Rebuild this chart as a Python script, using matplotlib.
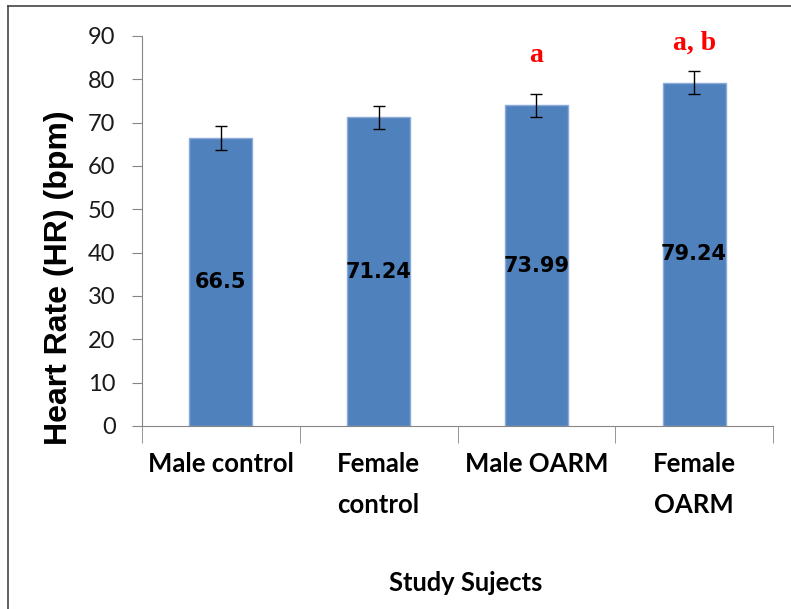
import matplotlib
matplotlib.use("Agg")
import matplotlib.pyplot as plt
from matplotlib.lines import Line2D
import numpy as np

groups = ["Male control", "Female\ncontrol", "Male OARM", "Female\nOARM"]
heart_rate = [66.5, 71.24, 73.99, 79.24]
errors = [2.7, 2.6, 2.6, 2.7]
sig_letters = ["", "", "a", "a, b"]
sig_y = [0, 0, 85.4, 88.4]

fig = plt.figure(figsize=(7.91, 6.09), dpi=100)
ax = fig.add_axes([142/791, 1-426/609, 631/791, 390/609])

x = np.arange(len(groups))
ax.bar(x, heart_rate, width=0.4, color="#4F81BD", edgecolor="#8EAADB", linewidth=1,
       yerr=errors, error_kw=dict(ecolor="black", elinewidth=1, capsize=4, capthick=1))

for xi, v in zip(x, heart_rate):
    ax.text(xi, v/2, f"{v:g}", ha="center", va="center", fontsize=15,
            fontweight="bold", family="DejaVu Sans", color="black")

for xi, s, yy in zip(x, sig_letters, sig_y):
    if s:
        ax.text(xi, yy, s, ha="center", va="center", fontsize=20, fontweight="bold",
                family="Liberation Serif", color="red")

ax.set_xlim(-0.5, 3.5)
ax.set_ylim(0, 90)
ax.set_yticks(range(0, 91, 10))
ax.set_yticklabels([str(t) for t in range(0, 91, 10)], fontsize=17, family="Lato",
                   color="#1a1a1a")
ax.set_xticks(x)
ax.set_xticklabels(groups, fontsize=18.5, fontweight="bold", family="Lato", linespacing=1.85)
ax.set_xticks(np.arange(-0.5, 4, 1), minor=True)
ax.tick_params(axis="x", which="major", length=0, pad=19)
ax.tick_params(axis="x", which="minor", length=12, color="#868686", direction="out")
ax.tick_params(axis="y", length=7, color="#868686", pad=12)

for side in ["top", "right"]:
    ax.spines[side].set_visible(False)
for side in ["left", "bottom"]:
    ax.spines[side].set_color("#868686")

fig.text(59/791, 1-278/609, "Heart Rate (HR) (bpm)", rotation=90, ha="center", va="center",
         fontsize=23, fontweight="bold", family="Liberation Sans")
fig.text(466/791, 1-583/609, "Study Sujects", ha="center", va="center",
         fontsize=18.4, fontweight="bold", family="Lato")

# outer frame (left and top edges)
fig.add_artist(Line2D([8/791, 8/791], [0, 1-6/609], color="#444444", linewidth=1.2,
                      transform=fig.transFigure))
fig.add_artist(Line2D([8/791, 1], [1-6/609, 1-6/609], color="#444444", linewidth=1.2,
                      transform=fig.transFigure))

fig.savefig("out.png", dpi=100)
